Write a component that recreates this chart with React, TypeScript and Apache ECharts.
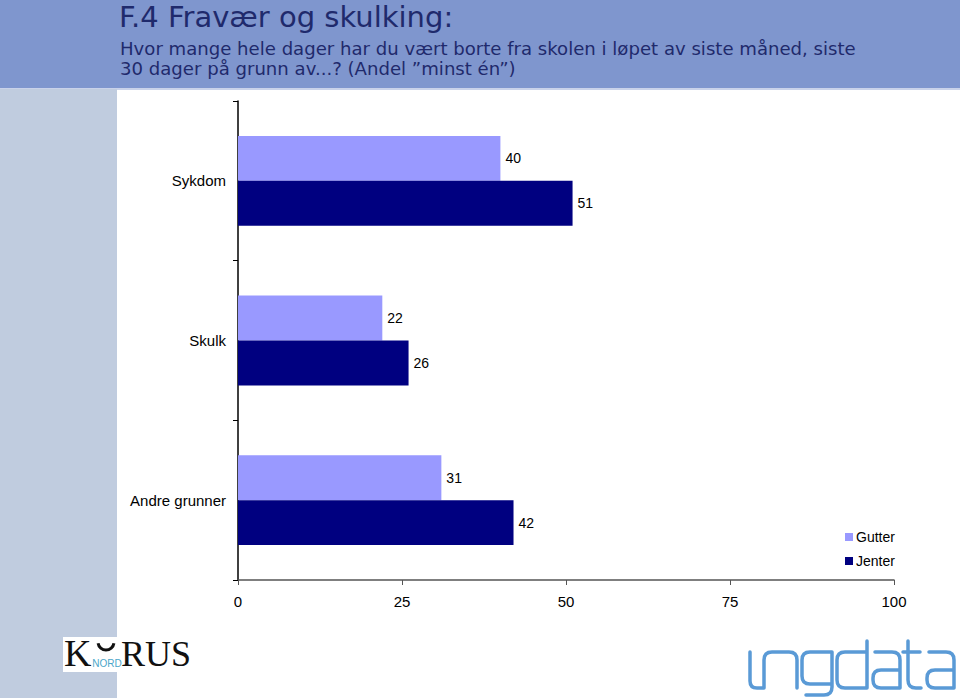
import React, { useEffect, useRef } from "react";
import * as echarts from "echarts";

const categories = ["Sykdom", "Skulk", "Andre grunner"];
const gutter = [40, 22, 31];
const jenter = [51, 26, 42];
const xTicks = { min: 0, max: 100, interval: 25 };

const titleText = "F.4 Fravær og skulking:";
const subtitle1 = "Hvor mange hele dager har du vært borte fra skolen i løpet av siste måned, siste";
const subtitle2 = "30 dager på grunn av...? (Andel ”minst én”)";

const UNGDATA_D =
  "M750 652 V681 Q750 688 757 688 H764 V660 Q764 652 772 652 H789 Q797 652 797 660 V688 " +
  "M832 652 H810 Q802 652 802 660 V676 Q802 684 810 684 H832 M832 652 V687 Q832 695 824 695 H806 " +
  "M867 641 V688 H845 Q837 688 837 680 V660 Q837 652 845 652 H867 " +
  "M875 652 H892 Q900 652 900 660 V688 H881 Q873 688 873 680 V678 Q873 670 881 670 H900 " +
  "M908 641 V680 Q908 688 916 688 H921 M903 652 H920 " +
  "M929 652 H946 Q954 652 954 660 V688 H935 Q927 688 927 680 V678 Q927 670 935 670 H954";

let registered = false;
function ensureShapes() {
  if (registered) return;
  registered = true;
  echarts.graphic.registerShape("ungdata", echarts.graphic.extendPath(UNGDATA_D, {}) as any);
}

export default function App() {
  const ref = useRef<HTMLDivElement>(null);
  useEffect(() => {
    if (!ref.current) return;
    ensureShapes();
    const chart = echarts.init(ref.current, undefined, { renderer: "svg" });
    const labelFont = "Liberation Sans, Arial, sans-serif";
    chart.setOption({
      animation: false,
      backgroundColor: "#ffffff",
      grid: { left: 238, right: 66, top: 101, bottom: 118, containLabel: false },
      legend: {
        orient: "vertical",
        left: 840,
        top: 525,
        itemWidth: 8,
        itemHeight: 8,
        itemGap: 10,
        icon: "rect",
        textStyle: { fontFamily: labelFont, fontSize: 14, color: "#000", padding: [0, 0, 0, -2] },
        data: ["Gutter", "Jenter"],
      },
      xAxis: {
        type: "value",
        min: xTicks.min,
        max: xTicks.max,
        interval: xTicks.interval,
        axisLine: { show: true, lineStyle: { color: "#555", width: 1.5 } },
        axisTick: { show: true, length: 5, lineStyle: { color: "#555" } },
        axisLabel: { fontFamily: labelFont, fontSize: 15, color: "#000", margin: 14 },
        splitLine: { show: false },
      },
      yAxis: {
        type: "category",
        data: categories,
        inverse: true,
        axisLine: { show: true, lineStyle: { color: "#000", width: 1.5 } },
        axisTick: { show: true, length: 5, lineStyle: { color: "#000" } },
        axisLabel: { fontFamily: labelFont, fontSize: 15, color: "#000", margin: 12 },
      },
      series: [
        {
          name: "Gutter",
          type: "bar",
          data: gutter,
          barGap: "0%",
          barCategoryGap: "43.75%",
          itemStyle: { color: "#9999FF" },
          label: { show: true, position: "right", distance: 5, fontFamily: labelFont, fontSize: 14, color: "#000" },
        },
        {
          name: "Jenter",
          type: "bar",
          data: jenter,
          barGap: "0%",
          barCategoryGap: "43.75%",
          itemStyle: { color: "#000080" },
          label: { show: true, position: "right", distance: 5, fontFamily: labelFont, fontSize: 14, color: "#000" },
        },
      ],
      graphic: [
        { type: "rect", z: -10, silent: true, shape: { x: 0, y: 0, width: 960, height: 88 }, style: { fill: "#7F96CE" } },
        { type: "rect", z: -10, silent: true, shape: { x: 0, y: 88, width: 960, height: 2 }, style: { fill: "#C9D2EA" } },
        { type: "rect", z: -10, silent: true, shape: { x: 0, y: 89, width: 117, height: 609 }, style: { fill: "#C0CCDF" } },
        {
          type: "text",
          style: { x: 119, y: 17, text: titleText, fontFamily: "DejaVu Sans", fontSize: 29, fill: "#1F2A6C", verticalAlign: "middle" },
        },
        {
          type: "text",
          style: { x: 120, y: 48, text: subtitle1, fontFamily: "DejaVu Sans", fontSize: 18.1, fill: "#1F2A6C", verticalAlign: "middle" },
        },
        {
          type: "text",
          style: { x: 120, y: 68, text: subtitle2, fontFamily: "DejaVu Sans", fontSize: 18.1, fill: "#1F2A6C", verticalAlign: "middle" },
        },
        // KORUS logo
        { type: "rect", silent: true, shape: { x: 63, y: 637, width: 57, height: 35 }, style: { fill: "#ffffff" } },
        {
          type: "text",
          style: { x: 64, y: 672, text: "K", fontFamily: "Liberation Serif", fontSize: 38, fill: "#111", verticalAlign: "bottom" },
        },
        {
          type: "arc",
          shape: { cx: 106, cy: 642, r: 8, startAngle: 0.15, endAngle: Math.PI - 0.15 },
          style: { stroke: "#111", lineWidth: 3, fill: "none" },
        },
        {
          type: "text",
          style: { x: 107, y: 663, text: "NORD", fontFamily: "Liberation Sans", fontSize: 10, fill: "#4BA6C9", align: "center", verticalAlign: "middle" },
        },
        {
          type: "text",
          style: { x: 121, y: 672, text: "RUS", fontFamily: "Liberation Serif", fontSize: 36, fill: "#111", verticalAlign: "bottom" },
        },
        // ungdata logo
        {
          type: "ungdata",
          x: 0,
          y: 0,
          style: { stroke: "#5A9AD6", lineWidth: 3.5, fill: "none", lineCap: "round", lineJoin: "round" },
        },
      ],
    });
    return () => chart.dispose();
  }, []);
  return <div ref={ref} style={{ position: "absolute", left: 0, top: 0, width: 960, height: 698 }} />;
}
